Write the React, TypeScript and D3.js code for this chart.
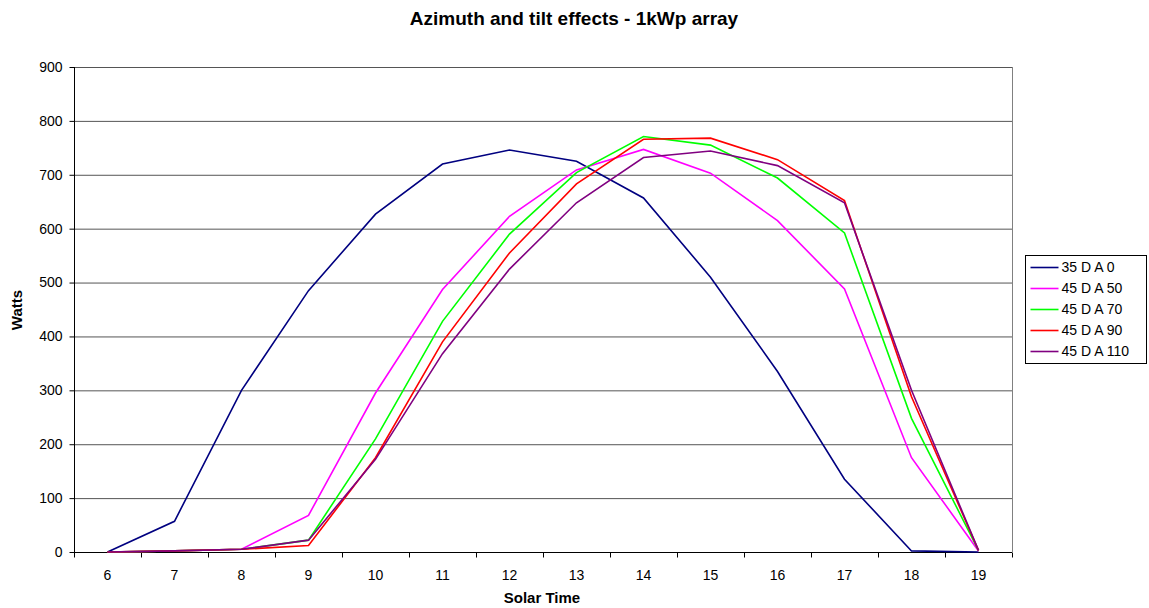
import React, { useEffect, useRef } from "react";
import * as d3 from "d3";

const hours = [6, 7, 8, 9, 10, 11, 12, 13, 14, 15, 16, 17, 18, 19];
const yTicks = [0, 100, 200, 300, 400, 500, 600, 700, 800, 900];

const seriesNames = ["35 D A 0", "45 D A 50", "45 D A 70", "45 D A 90", "45 D A 110"];
const seriesColors = ["#000080", "#FF00FF", "#00FF00", "#FF0000", "#800080"];

const tilt35az0 = [0, 57, 300, 485, 627, 720, 746, 725, 657, 510, 335, 135, 2, 0];
const tilt45az50 = [0, 2, 5, 68, 295, 487, 623, 709, 747, 703, 615, 488, 175, 2];
const tilt45az70 = [0, 2, 5, 22, 210, 428, 590, 704, 771, 755, 694, 592, 248, 3];
const tilt45az90 = [0, 2, 5, 12, 175, 390, 555, 683, 766, 768, 728, 652, 288, 3];
const tilt45az110 = [0, 2, 5, 22, 172, 368, 525, 648, 732, 744, 717, 648, 300, 3];

const allSeries = [tilt35az0, tilt45az50, tilt45az70, tilt45az90, tilt45az110];

const W = 1149;
const H = 608;

const App = () => {
  const svgRef = useRef<SVGSVGElement>(null);

  useEffect(() => {
    const margin = { top: 67, left: 74, right: 1012, bottom: 552 };
    const svg = d3.select(svgRef.current);
    svg.selectAll("*").remove();
    svg.attr("width", W).attr("height", H).style("font-family", "'Liberation Sans', Arial, sans-serif");

    const x = d3.scaleBand<number>().domain(hours).range([margin.left, margin.right]);
    const y = d3.scaleLinear().domain([0, 900]).range([margin.bottom, margin.top]);

    // gridlines
    svg.append("g")
      .selectAll("line")
      .data(yTicks.filter((t) => t > 0))
      .enter()
      .append("line")
      .attr("x1", margin.left)
      .attr("x2", margin.right)
      .attr("y1", (d) => y(d) + 0.5)
      .attr("y2", (d) => y(d) + 0.5)
      .attr("stroke", "#555")
      .attr("stroke-width", 1);

    // plot border (right)
    svg.append("line")
      .attr("x1", margin.right + 0.5).attr("x2", margin.right + 0.5)
      .attr("y1", margin.top).attr("y2", margin.bottom)
      .attr("stroke", "#808080");

    // y axis
    const yAxis = svg.append("g").attr("transform", `translate(${margin.left + 0.5},0)`);
    yAxis.append("line").attr("y1", margin.top).attr("y2", margin.bottom).attr("stroke", "#000");
    yAxis.selectAll("line.tick")
      .data(yTicks)
      .enter()
      .append("line")
      .attr("class", "tick")
      .attr("x1", -5).attr("x2", 0)
      .attr("y1", (d) => y(d) + 0.5).attr("y2", (d) => y(d) + 0.5)
      .attr("stroke", "#000");
    yAxis.selectAll("text")
      .data(yTicks)
      .enter()
      .append("text")
      .attr("x", -12)
      .attr("y", (d) => y(d))
      .attr("dy", "0.35em")
      .attr("text-anchor", "end")
      .attr("font-size", 14)
      .text((d) => d);

    // x axis
    const xAxis = svg.append("g").attr("transform", `translate(0,${margin.bottom + 0.5})`);
    xAxis.append("line").attr("x1", margin.left).attr("x2", margin.right).attr("stroke", "#000");
    const bounds = hours.map((h) => x(h)!).concat([margin.right]);
    xAxis.selectAll("line.tick")
      .data(bounds)
      .enter()
      .append("line")
      .attr("class", "tick")
      .attr("x1", (d) => Math.round(d) + 0.5).attr("x2", (d) => Math.round(d) + 0.5)
      .attr("y1", 0).attr("y2", 5)
      .attr("stroke", "#000");
    xAxis.selectAll("text")
      .data(hours)
      .enter()
      .append("text")
      .attr("x", (d) => x(d)! + x.bandwidth() / 2)
      .attr("y", 27)
      .attr("text-anchor", "middle")
      .attr("font-size", 14)
      .text((d) => d);

    // lines
    const line = d3.line<number>()
      .x((_, i) => x(hours[i])! + x.bandwidth() / 2)
      .y((d) => y(d));

    allSeries.forEach((s, i) => {
      svg.append("path")
        .datum(s)
        .attr("d", line)
        .attr("fill", "none")
        .attr("stroke", seriesColors[i])
        .attr("stroke-width", 1.6);
    });

    // titles
    svg.append("text")
      .attr("x", 574)
      .attr("y", 25)
      .attr("text-anchor", "middle")
      .attr("font-size", 19)
      .attr("font-weight", "bold")
      .text("Azimuth and tilt effects - 1kWp array");

    svg.append("text")
      .attr("x", 542)
      .attr("y", 603)
      .attr("text-anchor", "middle")
      .attr("font-size", 15)
      .attr("font-weight", "bold")
      .text("Solar Time");

    svg.append("text")
      .attr("transform", "translate(22,310) rotate(-90)")
      .attr("text-anchor", "middle")
      .attr("font-size", 15)
      .attr("font-weight", "bold")
      .text("Watts");

    // legend
    const legend = svg.append("g").attr("transform", "translate(1025.5,255.5)");
    legend.append("rect")
      .attr("width", 121)
      .attr("height", 108)
      .attr("fill", "#fff")
      .attr("stroke", "#000");
    seriesNames.forEach((name, i) => {
      const cy = 12 + i * 21;
      legend.append("line")
        .attr("x1", 5).attr("x2", 33)
        .attr("y1", cy).attr("y2", cy)
        .attr("stroke", seriesColors[i])
        .attr("stroke-width", 1.6);
      legend.append("text")
        .attr("x", 36)
        .attr("y", cy)
        .attr("dy", "0.35em")
        .attr("font-size", 14)
        .text(name);
    });
  }, []);

  return <svg ref={svgRef} style={{ position: "absolute", left: 0, top: 0 }}></svg>;
};

export default App;
